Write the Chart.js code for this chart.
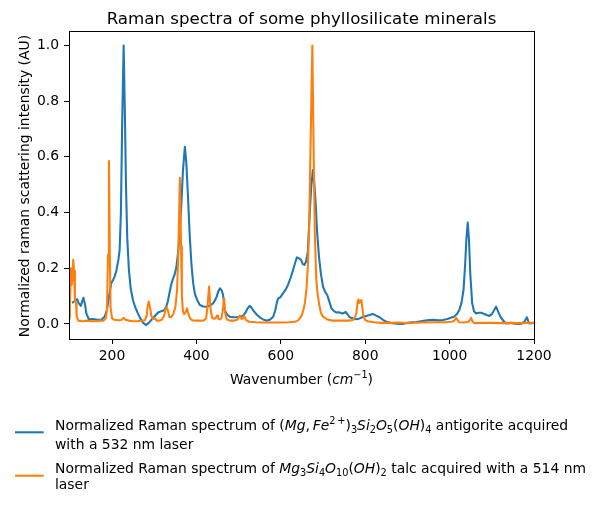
<!DOCTYPE html>
<html><head><meta charset="utf-8">
<script src="https://cdn.jsdelivr.net/npm/chart.js@4"></script>
<style>html,body{margin:0;padding:0;background:#fff}</style>
</head><body>
<canvas id="c" width="603" height="508" style="width:603px;height:508px;display:block"></canvas>
<script>
// ---- data ----
const antigoriteWavenumber = [105,110,117,121,126,132,136,139,145,155,165,175,182,188,193,198,203,206,210,212,215,218,221,224,227.5,230.5,233,236,240,244,249.5,255,261,267,273,281,287,293,300,309,317,324,329,332,336,340,344,348,352,356,360,364,368,372.6,376,380,384,388,392,396,402,408,416,424,432,439.5,444,448,452,456,460,463,467,472,479,487,495,503,510,516,521,526,530,534,542,550,558,566,574,582,587,591,594,599,605,611,617,623,629,634,638,643,648,652,656,660,664,668,672,676,679,682.6,686,690.5,695,700,705,710,715,720,726,732,737,743,748,753.6,758,763,771,779,787,795,802.6,810,818,826,834,842,850,860,870,880,889,900,910,921,932,942,952,962,972,984,995,1003,1010,1017,1023,1028,1033,1037,1040,1043,1046,1049,1053.5,1058,1063,1069,1075,1082,1088,1094.5,1100,1105,1110,1114,1120,1127,1134,1145,1155,1165,1172,1178,1183,1186,1189,1195,1200];
const antigoriteIntensity = [0.076,0.08,0.089,0.075,0.065,0.094,0.07,0.038,0.017,0.018,0.015,0.016,0.025,0.05,0.10,0.146,0.16,0.17,0.19,0.206,0.23,0.266,0.40,0.72,1.0,0.75,0.5,0.31,0.194,0.13,0.086,0.06,0.039,0.02,0.005,-0.004,0.004,0.014,0.026,0.041,0.046,0.05,0.065,0.08,0.11,0.14,0.16,0.176,0.2,0.25,0.32,0.42,0.55,0.636,0.58,0.457,0.32,0.218,0.15,0.11,0.085,0.068,0.063,0.062,0.066,0.074,0.085,0.098,0.118,0.128,0.12,0.105,0.05,0.035,0.026,0.024,0.024,0.026,0.03,0.04,0.055,0.065,0.06,0.05,0.035,0.024,0.016,0.012,0.015,0.026,0.05,0.08,0.092,0.096,0.11,0.122,0.14,0.165,0.194,0.22,0.239,0.236,0.23,0.215,0.212,0.225,0.26,0.385,0.49,0.553,0.51,0.433,0.33,0.241,0.18,0.134,0.115,0.104,0.08,0.056,0.046,0.041,0.042,0.039,0.038,0.043,0.035,0.024,0.02,0.017,0.02,0.026,0.029,0.032,0.036,0.03,0.024,0.015,0.008,0.004,0.002,0.0,0.0,0.004,0.006,0.007,0.01,0.012,0.014,0.015,0.013,0.014,0.018,0.022,0.026,0.035,0.05,0.075,0.122,0.22,0.31,0.364,0.3,0.18,0.074,0.045,0.038,0.04,0.04,0.036,0.032,0.029,0.035,0.048,0.062,0.048,0.027,0.012,0.002,0.004,0.001,0.0,0.002,0.01,0.024,0.012,0.002,0.003,0.004];

const talcWavenumber = [98,100,102.7,104.5,106,108,110,112,114.6,116,120,130,140,150,160,170,180,185,188,190.5,192.7,194.8,196.5,200,205,215,222,228,232,240,250,260,270,278,282,285,287.3,290,293,297,302,306,312,318,323,327,330,333,336,340,345,350,354,357,360.7,363.5,365.5,368,371,375,378,381,385,390,400,410,418,423,426,430,433,437,442,447,449,451,455,459,462,465.6,468,472,480,490,497,502.7,507,510,513,517,525,540,560,580,600,620,633,640,645,650,654,657,661,664.4,667,670,674.7,678,680.5,684,687,690.5,695,700,710,722,740,760,771,776,779,782,784,786,788,791,793,796,800,806,820,840,860,880,900,930,960,990,1005,1011,1015.6,1019,1023,1035,1045,1049,1051,1054,1058,1080,1100,1120,1140,1160,1180,1200];
const talcIntensity = [0.02,0.06,0.2,0.14,0.16,0.23,0.19,0.086,0.075,0.03,0.012,0.01,0.012,0.01,0.01,0.012,0.012,0.02,0.05,0.25,0.585,0.25,0.06,0.02,0.015,0.013,0.014,0.022,0.015,0.012,0.01,0.01,0.011,0.013,0.03,0.07,0.08,0.06,0.03,0.018,0.02,0.012,0.012,0.015,0.028,0.055,0.06,0.045,0.025,0.025,0.035,0.06,0.12,0.25,0.525,0.28,0.1,0.045,0.035,0.045,0.056,0.035,0.02,0.013,0.012,0.012,0.013,0.02,0.06,0.134,0.06,0.022,0.018,0.025,0.03,0.02,0.016,0.02,0.045,0.092,0.04,0.016,0.012,0.012,0.015,0.03,0.018,0.02,0.03,0.015,0.008,0.006,0.005,0.005,0.005,0.006,0.008,0.012,0.02,0.032,0.055,0.074,0.13,0.218,0.34,0.6,1.0,0.6,0.33,0.16,0.11,0.074,0.04,0.026,0.016,0.012,0.012,0.012,0.014,0.025,0.038,0.08,0.088,0.075,0.08,0.086,0.06,0.026,0.014,0.01,0.006,0.004,0.004,0.005,0.003,0.005,0.006,0.006,0.008,0.012,0.022,0.014,0.006,0.005,0.008,0.016,0.022,0.01,0.003,0.004,0.004,0.003,0.004,0.003,0.004,0.004];

const xTickValues = [200,400,600,800,1000,1200];
const yTickValues = [0.0,0.2,0.4,0.6,0.8,1.0];
const xRange = [98,1200];
const yRange = [-0.054,1.052];
const seriesColors = ['#1f77b4','#ff7f0e'];
const titleText = 'Raman spectra of some phyllosilicate minerals';
const yTitleText = 'Normalized raman scattering intensity (AU)';
// rich text segments: it = italic (math), sub/sup = sub/superscript
const xTitleSegs = [{t:'Wavenumber ('},{t:'cm',it:1},{t:'\u22121',it:0,sup:1},{t:')'}];
const legendEntries = [
  {lines:[
    [{t:'Normalized Raman spectrum of '},{t:'('},{t:'Mg',it:1},{t:',\u2009'},{t:'Fe',it:1},{t:'2\u2009+',sup:1},{t:')'},{t:'3',sub:1},{t:'Si',it:1},{t:'2',sub:1},{t:'O',it:1},{t:'5',sub:1},{t:'('},{t:'OH',it:1},{t:')'},{t:'4',sub:1},{t:' antigorite acquired'}],
    [{t:'with a 532 nm laser'}]
  ]},
  {lines:[
    [{t:'Normalized Raman spectrum of '},{t:'Mg',it:1},{t:'3',sub:1},{t:'Si',it:1},{t:'4',sub:1},{t:'O',it:1},{t:'10',sub:1},{t:'('},{t:'OH',it:1},{t:')'},{t:'2',sub:1},{t:' talc acquired with a 514 nm'}],
    [{t:'laser'}]
  ]}
];

const FONT = '"DejaVu Sans"';
const FS = 13.9;
const LW = 2.08;

function richWidth(ctx, segs, size){
  let w=0;
  for(const s of segs){
    const sz=(s.sub||s.sup)?size*0.7:size;
    ctx.font=(s.it?'italic ':'')+sz+'px '+FONT;
    w+=ctx.measureText(s.t).width;
  }
  return w;
}
function drawRich(ctx, segs, x, y, size){
  let cx=x;
  ctx.textAlign='left'; ctx.textBaseline='alphabetic';
  for(const s of segs){
    const sz=(s.sub||s.sup)?size*0.7:size;
    ctx.font=(s.it?'italic ':'')+sz+'px '+FONT;
    const dy=s.sub?size*0.24:(s.sup?-size*0.42:0);
    ctx.fillText(s.t,cx,y+dy);
    cx+=ctx.measureText(s.t).width;
  }
}

const decor = {
  id:'decor',
  afterDraw(chart){
    const ctx=chart.ctx, a=chart.chartArea;
    ctx.save();
    // spines
    ctx.strokeStyle='#000'; ctx.lineWidth=1;
    ctx.strokeRect(Math.round(a.left)+0.5, Math.round(a.top)+0.5, Math.round(a.right-a.left), Math.round(a.bottom-a.top));
    ctx.fillStyle='#000';
    const cx=(a.left+a.right)/2;
    // title
    ctx.font='16.67px '+FONT; ctx.textAlign='center'; ctx.textBaseline='alphabetic';
    ctx.fillText(titleText, cx, 24);
    // x title
    const w=richWidth(ctx,xTitleSegs,FS);
    drawRich(ctx,xTitleSegs,cx-w/2,383.5,FS);
    // y title
    ctx.save();
    ctx.translate(29,(a.top+a.bottom)/2+1);
    ctx.rotate(-Math.PI/2);
    ctx.font=FS+'px '+FONT; ctx.textAlign='center'; ctx.textBaseline='alphabetic';
    ctx.fillText(yTitleText,0,0);
    ctx.restore();
    // legend
    const rows=[[432.3,[430,449.3]],[475.7,[472.7,489]]];
    legendEntries.forEach((e,i)=>{
      ctx.strokeStyle=seriesColors[i]; ctx.lineWidth=LW;
      ctx.beginPath(); ctx.moveTo(15,rows[i][0]); ctx.lineTo(43.7,rows[i][0]); ctx.stroke();
      ctx.fillStyle='#000';
      e.lines.forEach((ln,j)=>drawRich(ctx,ln,55,rows[i][1][j],FS));
    });
    ctx.restore();
  }
};

const mk=(xs,ys)=>xs.map((x,i)=>({x:x,y:ys[i]}));
new Chart(document.getElementById('c'),{
  type:'line',
  data:{datasets:[
    {label:'antigorite',data:mk(antigoriteWavenumber,antigoriteIntensity),borderColor:seriesColors[0],borderWidth:LW,pointRadius:0,tension:0,fill:false,order:2,borderJoinStyle:'round',borderCapStyle:'butt'},
    {label:'talc',data:mk(talcWavenumber,talcIntensity),borderColor:seriesColors[1],borderWidth:LW,pointRadius:0,tension:0,fill:false,order:1,borderJoinStyle:'round',borderCapStyle:'butt'}
  ]},
  options:{
    responsive:false, animation:false, devicePixelRatio:1,
    layout:{padding:{left:0,right:69,top:31,bottom:119}},
    plugins:{legend:{display:false},tooltip:{enabled:false},title:{display:false}},
    scales:{
      x:{type:'linear',min:xRange[0],max:xRange[1],
        afterBuildTicks:s=>{s.ticks=xTickValues.map(v=>({value:v}));},
        afterFit:s=>{s.height=50;},
        grid:{display:true,drawOnChartArea:false,drawTicks:true,tickLength:5,tickColor:'#000',tickWidth:1},
        border:{display:false},
        ticks:{color:'#000',padding:4,font:{family:'DejaVu Sans',size:FS},maxRotation:0,callback:v=>String(v)}
      },
      y:{type:'linear',min:yRange[0],max:yRange[1],
        afterBuildTicks:s=>{s.ticks=yTickValues.map(v=>({value:v}));},
        afterFit:s=>{s.width=69;},
        grid:{display:true,drawOnChartArea:false,drawTicks:true,tickLength:5,tickColor:'#000',tickWidth:1},
        border:{display:false},
        ticks:{color:'#000',padding:5,font:{family:'DejaVu Sans',size:FS},callback:v=>Number(v).toFixed(1)}
      }
    }
  },
  plugins:[decor]
});
</script>
</body></html>
